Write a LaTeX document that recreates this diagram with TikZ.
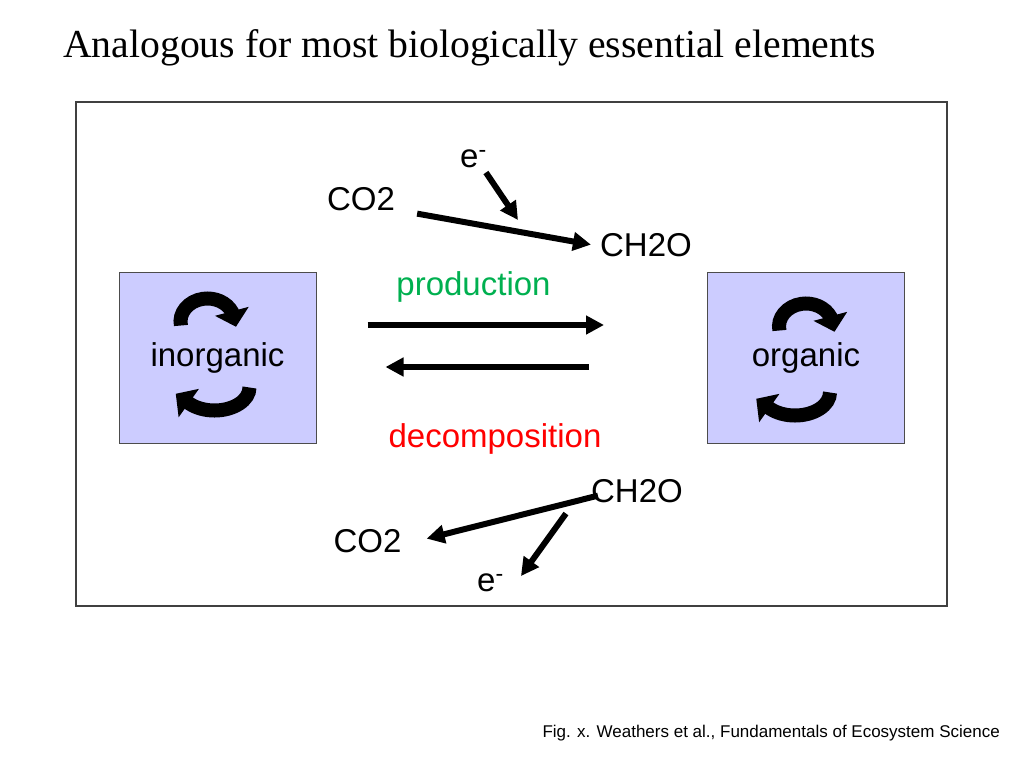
\documentclass[tikz,border=0pt]{standalone}
\usepackage{fontspec}
\setmainfont{Liberation Sans}
\newfontfamily\titlefont{Liberation Serif}
\usepackage{xcolor}
\usetikzlibrary{arrows.meta}

\definecolor{poolfill}{RGB}{204,204,255}
\definecolor{prodgreen}{RGB}{0,176,80}

\begin{document}
\begin{tikzpicture}[
    x=1pt, y=-1pt,
    lbl/.style={font=\fontsize{33}{38}\selectfont, inner sep=0pt, anchor=base},
    pool/.style={rectangle, draw=black!70, fill=poolfill, line width=1pt,
                 minimum width=197pt, minimum height=171pt,
                 font=\fontsize{33}{38}\selectfont},
    arr/.style={-{Triangle[width=18pt,length=18pt]}, line width=6pt},
    cyc/.style={-{Triangle[width=34pt,length=16pt]}, line width=14pt}
]
\useasboundingbox (0,0) rectangle (1024,768);

\node[anchor=base west, inner sep=0pt, font=\titlefont\fontsize{39.7}{46}\selectfont]
    (title) at (63,57) {Analogous for most biologically essential elements};
\draw[black!75, line width=1.2pt] (76,102) rectangle (947,606);

% the two pools
\node[pool] (inorg) at (217.5,357.5) {inorganic};
\node[pool] (org)   at (806,357.5)   {organic};

% turnover inside each pool
\foreach \b/\dt/\db/\dy in {inorg/-10/-3/0, org/0/-11/5} {
  \begin{scope}[shift={(\b.center)}]
    \draw[cyc] (\dt,{-36+\dy}) ++(170:27 and 23)
        arc[start angle=170, end angle=335, x radius=27, y radius=23] -- ++(4,15);
    \draw[cyc] (\db,{30+\dy}) ++(0:35 and 23)
        arc[start angle=0, end angle=135, x radius=35, y radius=23] -- ++(-14,-10);
  \end{scope}
}

% fluxes between the pools
\node[lbl, text=prodgreen] (prod)   at (473.5,295) {production};
\node[lbl, text=red]       (decomp) at (495,447)   {decomposition};
\draw[arr] ([shift={(51pt,32.5pt)}]inorg.east) -- ([shift={(-103pt,32.5pt)}]org.west);
\draw[arr] ([shift={(-118pt,-9.5pt)}]org.west) -- ([shift={(69pt,-9.5pt)}]inorg.east);

% reduction
\node[lbl] (co2a)  at (361,210) {CO2};
\node[lbl] (ch2oa) at (646,256) {CH2O};
\node[lbl, anchor=base west] (ea) at (460,167) {e\textsuperscript{-}};
\coordinate (ein) at (518,220);
\draw[arr] ([shift={(22pt,-15pt)}]co2a.east) -- ([xshift=-9pt]ch2oa.west);
\draw[arr] ([shift={(-1pt,-5pt)}]ea.south east) -- (ein);

% oxidation
\node[lbl] (ch2ob) at (637,502)   {CH2O};
\node[lbl] (co2b)  at (367.5,552) {CO2};
\node[lbl, anchor=base west] (eb) at (477,591) {e\textsuperscript{-}};
\draw[arr] ([shift={(7pt,-5pt)}]ch2ob.west) -- ([shift={(25pt,2pt)}]co2b.east);
\draw[arr] ([shift={(-25pt,-11pt)}]ch2ob.south west) -- ([shift={(17pt,-3pt)}]eb.north east);

\node[anchor=base east, inner sep=0pt, font=\fontsize{17}{20}\selectfont]
    (cap) at (1000,737) {Fig. x. Weathers et al., Fundamentals of Ecosystem Science};
\end{tikzpicture}
\end{document}
